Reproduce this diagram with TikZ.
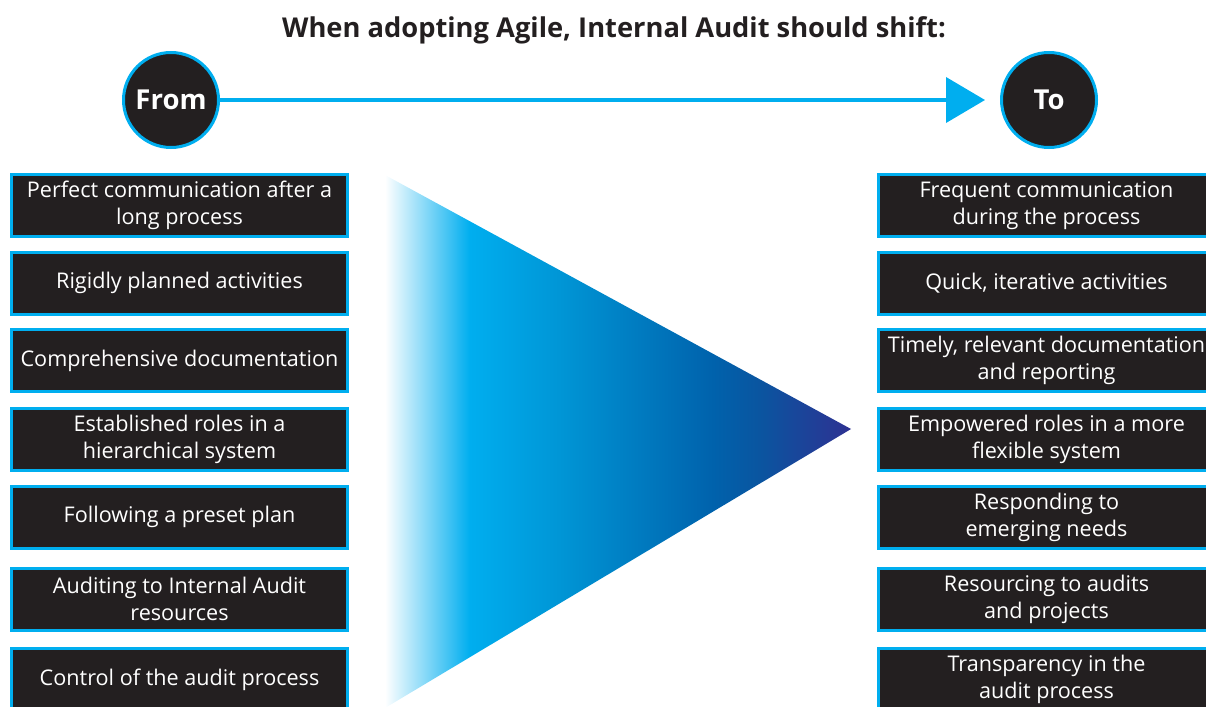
\documentclass[tikz,border=0pt]{standalone}
\usepackage{fontspec}
\setmainfont{Open Sans}
\usetikzlibrary{arrows.meta}
\definecolor{acyan}{RGB}{0,174,239}
\definecolor{boxfill}{RGB}{35,31,32}
\definecolor{midblue}{RGB}{0,98,172}
\definecolor{darkmid}{RGB}{10,85,160}
\definecolor{deepblue}{RGB}{46,49,146}
\definecolor{midcyan}{RGB}{0,149,213}
\pgfdeclarehorizontalshading{trishade}{100bp}{color(0bp)=(white); color(25bp)=(white); color(34.1bp)=(acyan); color(44bp)=(midcyan); color(60.2bp)=(midblue); color(65.2bp)=(darkmid); color(75bp)=(deepblue); color(100bp)=(deepblue)}
\tikzset{
  ibox/.style={draw=acyan, line width=3pt, fill=boxfill, text=white,
    minimum width=336pt, minimum height=62pt, align=center, inner sep=0pt,
    font=\fontsize{21.6}{27}\selectfont},
  circ/.style={circle, draw=acyan, line width=3pt, fill=boxfill, text=white,
    minimum size=95pt, inner sep=0pt, font=\fontsize{27.5}{27.5}\bfseries\selectfont},
  arrowline/.style={draw=acyan, line width=4pt, -{Triangle[length=39pt,width=45pt]}}
}
\begin{document}
\begin{tikzpicture}[x=1pt,y=-1pt]
\useasboundingbox (0,0) rectangle (1206,706);
% title
\node[text=boxfill, font=\fontsize{27.3}{30}\bfseries\selectfont] (title) at (614,30) {When adopting Agile, Internal Audit should shift:};
% circles
\node[circ] (from) at (171,100) {From};
\node[circ] (to) at (1049,100) {To};
\draw[arrowline, shorten >=15pt] (from) -- (to);
% gradient triangle
\shade[shading=trishade] (385,175) -- (851,429) -- (385,708) -- cycle;
% left boxes
\node[ibox] (l1) at (179.5,205.5) {Perfect communication after a\\long process};
\node[ibox] (l2) at (179.5,283) {Rigidly planned activities};
\node[ibox] (l3) at (179.5,360.5) {Comprehensive documentation};
\node[ibox] (l4) at (179.5,439.5) {Established roles in a\\hierarchical system};
\node[ibox] (l5) at (179.5,517) {Following a preset plan};
\node[ibox] (l6) at (179.5,599) {Auditing to Internal Audit\\resources};
\node[ibox] (l7) at (179.5,679.5) {Control of the audit process};
% right boxes
\node[ibox] (r1) at (1046.5,205.5) {Frequent communication\\during the process};
\node[ibox] (r2) at (1046.5,283) {Quick, iterative activities};
\node[ibox] (r3) at (1046.5,360.5) {Timely, relevant documentation\\and reporting};
\node[ibox] (r4) at (1046.5,439.5) {Empowered roles in a more\\flexible system};
\node[ibox] (r5) at (1046.5,517) {Responding to\\emerging needs};
\node[ibox] (r6) at (1046.5,599) {Resourcing to audits\\and projects};
\node[ibox] (r7) at (1046.5,679.5) {Transparency in the\\audit process};
\end{tikzpicture}
\end{document}
